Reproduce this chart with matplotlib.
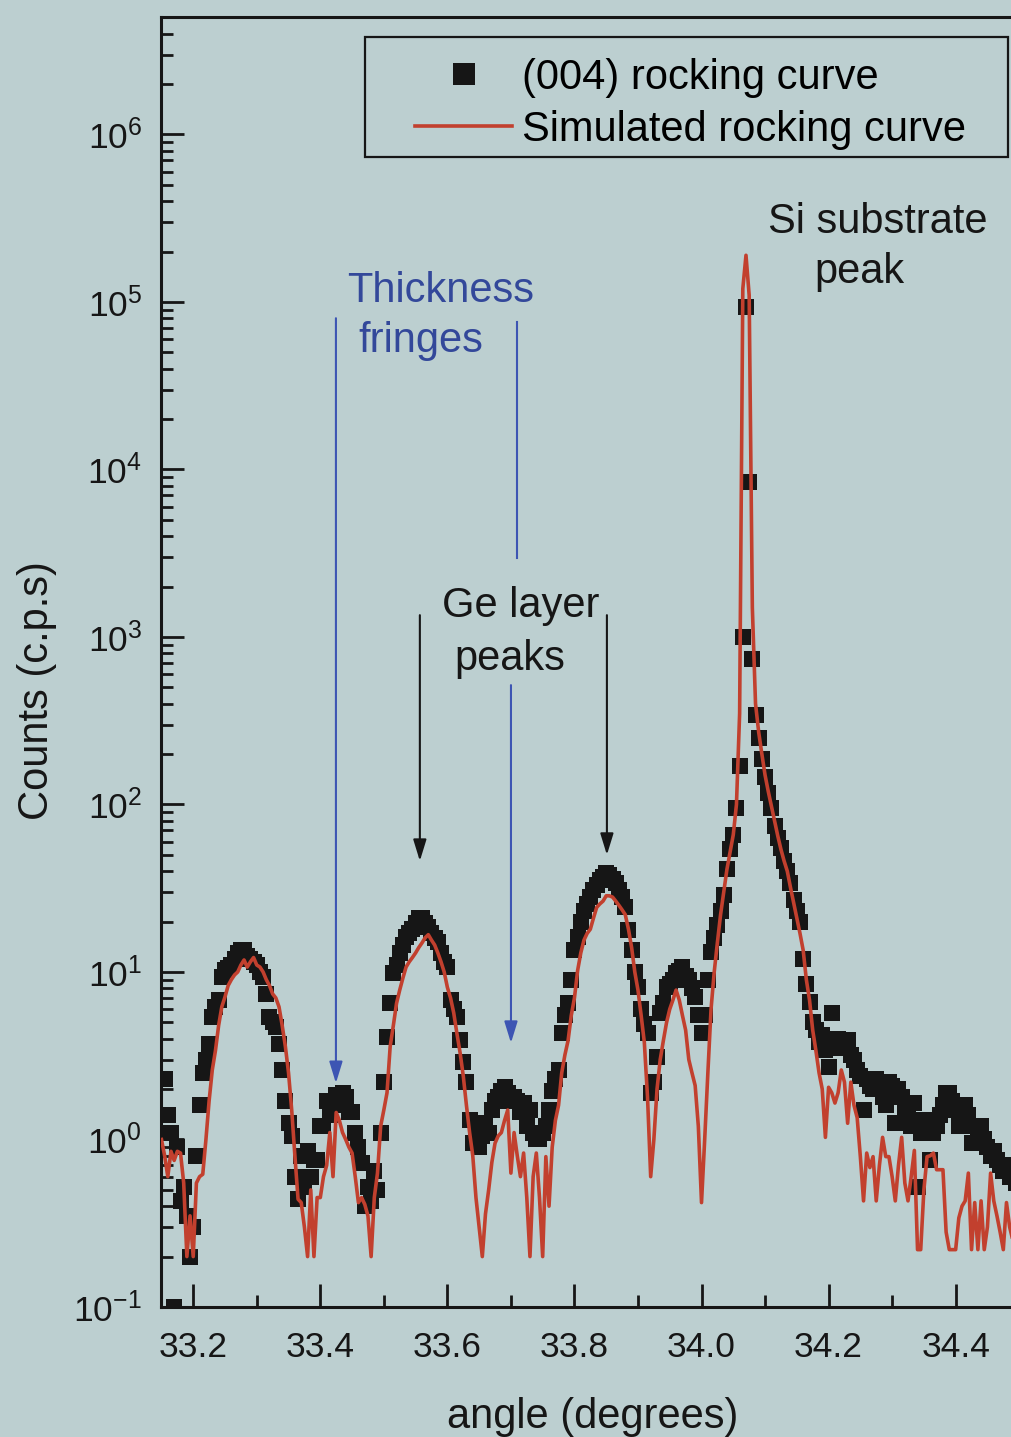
import matplotlib
matplotlib.use("Agg")
import matplotlib.pyplot as plt
import numpy as np
from matplotlib.patches import Rectangle
from matplotlib.ticker import (FormatStrFormatter, LogLocator, MultipleLocator,
                               NullFormatter)

plt.rcParams['font.family'] = ['Liberation Sans', 'DejaVu Sans']
plt.rcParams['axes.unicode_minus'] = False

# (004) rocking curve, counts per second, one point every 0.005 deg from 33.155
rocking_start = 33.155
rocking_counts = [
    2.3, 1.4, 1.1, 0.1, 0.9, 0.43, 0.52, 0.35, 0.2, 0.3,          # 33.155
    0.8, 1.6, 2.5, 3.0, 3.7, 5.4, 6.2, 6.8, 9.3, 10.3,            # 33.205
    10.5, 11, 12, 13, 13.5, 13.5, 12.5, 12, 11.5, 11,             # 33.255
    10, 9.3, 7.4, 5.4, 5.0, 4.7, 3.7, 2.6, 1.7, 1.25,             # 33.305
    1.05, 0.6, 0.44, 0.8, 0.52, 0.85, 0.6, 0.75, 0.75, 1.2,       # 33.355
    1.2, 1.7, 1.4, 1.6, 1.85, 1.7, 1.9, 1.8, 1.45, 1.45,          # 33.405
    1.1, 0.9, 0.72, 0.4, 0.52, 0.43, 0.65, 0.5, 1.1, 2.2,         # 33.455
    4.1, 6.5, 9.9, 11, 12.9, 14.5, 16.2, 17, 18, 19.6,            # 33.505
    21, 21, 19.5, 18.5, 17, 16, 15, 13, 11.5, 10.7,               # 33.555
    6.8, 6.0, 5.4, 3.9, 2.9, 2.2, 1.3, 0.95, 1.1, 0.9,            # 33.605
    1.05, 1.25, 1.1, 1.5, 1.7, 1.8, 1.96, 2.05, 1.9, 1.7,         # 33.655
    1.8, 1.7, 1.45, 1.65, 1.2, 1.5, 1.1, 1.0, 1.0, 1.1,           # 33.705
    1.2, 1.5, 1.95, 2.3, 2.6, 4.3, 5.5, 6.5, 9.0, 13.5,           # 33.755
    16.2, 20, 23, 25.6, 28, 31, 33, 35.5, 37, 38.8,               # 33.805
    38, 36, 34, 31, 28, 24.5, 17.9, 13.5, 10, 8.1,                # 33.855
    6.0, 4.9, 4.3, 1.9, 2.2, 3.1, 5.7, 6.5, 8.1, 8.5,             # 33.905
    9.0, 9.9, 10.2, 10.7, 9.5, 9.0, 8.0, 7.1, 5.5, 4.3,           # 33.955
    5.5, 9.0, 13.1, 16, 19, 23, 29, 41, 54, 66,                   # 34.005
    95, 170, 1000, 93000, 8400, 740, 340, 250, 187, 145,          # 34.055
    117, 95, 74, 63, 55, 46, 40, 34, 27, 23,                      # 34.105
    20, 12, 8.5, 6.6, 5.0, 4.5, 3.8, 4.2, 3.4, 2.7,               # 34.155
    5.7, 3.6, 4.0, 3.5, 3.6, 3.9, 3.2, 3.0, 2.6, 2.4,             # 34.205
    1.5, 2.3, 2.1, 2.0, 2.3, 2.2, 1.8, 1.6, 2.2, 2.1,             # 34.255
    1.25, 2.0, 1.8, 1.5, 1.4, 1.2, 1.65, 0.52, 1.1, 1.3,          # 34.305
    1.1, 0.75, 1.1, 1.2, 1.4, 1.6, 1.9, 1.9, 1.7, 1.5,            # 34.355
    1.2, 1.5, 1.6, 1.4, 0.95, 1.2, 1.1, 1.2, 1.0, 0.9,            # 34.405
    0.8, 0.85, 0.75, 0.7, 0.65, 0.7, 0.6, 0.6, 0.55, 0.55,        # 34.455
]

# simulated rocking curve, one point every 0.005 deg from 33.150
simulated_start = 33.150
simulated_counts = [
    1.0, 0.8, 0.6, 0.85, 0.75, 0.85, 0.83, 0.55, 0.2, 0.35,       # 33.150
    0.2, 0.55, 0.6, 0.62, 1.0, 1.7, 2.6, 3.4, 4.8, 6.2,           # 33.200
    7.1, 8.3, 9.0, 9.6, 10.0, 11, 11.8, 10.7, 11.5, 12.2,         # 33.250
    11, 10.7, 10, 9, 8.3, 7.4, 7.0, 6.2, 4.8, 3.6,                # 33.300
    2.5, 1.5, 0.8, 0.44, 0.42, 0.3, 0.2, 0.5, 0.2, 0.45,          # 33.350
    0.45, 0.6, 0.7, 1.1, 0.6, 1.45, 1.3, 1.1, 1.0, 0.9,           # 33.400
    0.83, 0.6, 0.42, 0.45, 0.41, 0.35, 0.2, 0.45, 0.63, 1.2,      # 33.450
    1.5, 1.9, 3.6, 4.8, 6.5, 7.8, 9.2, 10.7, 11.5, 12.2,          # 33.500
    13, 14, 14.9, 16, 16.7, 15.5, 14.5, 13, 11.5, 10,             # 33.550
    8.1, 7, 5.7, 4.3, 3.3, 2.4, 1.6, 1.1, 0.8, 0.45,              # 33.600
    0.3, 0.2, 0.36, 0.5, 0.73, 0.95, 1.05, 1.1, 1.3, 1.5,         # 33.650
    0.63, 1.1, 0.8, 0.6, 0.83, 0.45, 0.2, 0.6, 0.83, 0.45,        # 33.700
    0.2, 0.79, 0.4, 0.9, 1.3, 1.6, 2.5, 3.2, 3.9, 5.5,            # 33.750
    7.0, 10.2, 13, 15.5, 17, 18, 21, 24.3, 25.5, 26.5,            # 33.800
    28.5, 28.5, 28, 26.5, 25, 23.5, 22, 18, 14, 10,               # 33.850
    7.8, 5.5, 3.8, 1.8, 0.6, 1.0, 2.0, 3.0, 3.9, 5.0,             # 33.900
    6.0, 6.8, 7.8, 6.8, 5.5, 4.5, 3.0, 2.5, 2.1, 1.2,             # 33.950
    0.42, 1.0, 2.5, 6, 10, 15, 22, 30, 41, 52,                    # 34.000
    66, 100, 350, 120000, 190000, 110000, 1500, 400, 270, 200,    # 34.050
    150, 120, 98, 80, 65, 54, 46, 40, 32, 26,                     # 34.100
    21, 17, 13.5, 9, 6.8, 4.5, 3.4, 2.5, 2.0, 1.03,               # 34.150
    2.05, 1.9, 1.65, 1.9, 2.6, 2.2, 1.25, 2.2, 1.6, 1.35,         # 34.200
    0.79, 0.43, 0.83, 0.68, 0.79, 0.43, 0.7, 1.03, 0.79, 0.79,    # 34.250
    0.6, 0.43, 0.7, 1.03, 0.55, 0.43, 0.6, 0.86, 0.22, 0.22,      # 34.300
    0.5, 0.79, 0.8, 0.83, 0.66, 0.66, 0.66, 0.28, 0.22, 0.22,     # 34.350
    0.22, 0.34, 0.4, 0.43, 0.63, 0.22, 0.42, 0.22, 0.43, 0.22,    # 34.400
    0.3, 0.63, 0.43, 0.35, 0.28, 0.22, 0.42, 0.3, 0.25, 0.3,      # 34.450
    0.3,                                                          # 34.500
]
step = 0.005

rocking_angle = rocking_start + step * np.arange(len(rocking_counts))
simulated_angle = simulated_start + step * np.arange(len(simulated_counts))

bg = '#bccfd0'
ink = '#161616'
red = '#c2402e'
blue_text = '#33489a'
blue_line = '#3d55b3'

fig = plt.figure(figsize=(10.11, 14.37), dpi=100)
fig.patch.set_facecolor(bg)
ax = fig.add_axes([0.1597, 0.09047, 0.8484, 0.89742])
ax.set_facecolor(bg)

ax.plot(rocking_angle, rocking_counts, 's', color=ink, markersize=11.8,
        markeredgewidth=0, label='(004) rocking curve', zorder=2)
ax.plot(simulated_angle, simulated_counts, '-', color=red, lw=2.6,
        label='Simulated rocking curve', zorder=3)

ax.set_yscale('log')
ax.set_xlim(33.15, 34.5)
ax.set_ylim(0.1, 5e6)

ax.xaxis.set_major_locator(MultipleLocator(0.2))
ax.xaxis.set_minor_locator(MultipleLocator(0.1))
ax.xaxis.set_major_formatter(FormatStrFormatter('%.1f'))
ax.yaxis.set_major_locator(LogLocator(base=10, numticks=20))
ax.yaxis.set_minor_locator(LogLocator(base=10, subs=np.arange(2, 10),
                                      numticks=20))
ax.yaxis.set_minor_formatter(NullFormatter())

ax.tick_params(which='both', direction='in', top=False, right=False,
               colors=ink, labelsize=25.5, width=2)
ax.tick_params(which='major', length=16.5)
ax.tick_params(which='minor', length=8.5)
ax.tick_params(axis='y', pad=14)
ax.tick_params(axis='x', pad=17)
for side in ['left', 'bottom', 'top']:
    ax.spines[side].set_linewidth(2.2)
    ax.spines[side].set_color(ink)
ax.spines['right'].set_visible(False)

ax.set_xlabel('angle (degrees)', fontsize=30, color=ink)
ax.xaxis.set_label_coords(0.503, -0.0698)
ax.set_ylabel('Counts (c.p.s)', fontsize=30, color=ink)
ax.yaxis.set_label_coords(-0.122, 0.478)

# legend without its own frame, boxed by a plain rectangle
ax.legend(loc='upper left', bbox_to_anchor=(0.2956, 0.9686), frameon=False,
          fontsize=30, handlelength=2.33, handletextpad=0.24,
          labelspacing=0.29, borderpad=0, borderaxespad=0, markerscale=1.3)
ax.add_patch(Rectangle((0.2373, 0.8918), 0.7496, 0.093,
                       transform=ax.transAxes, fill=False, lw=1.6,
                       edgecolor=ink, zorder=5, clip_on=False))

# annotation labels
ax.text(33.590, 1.0e5, 'Thickness', color=blue_text, fontsize=30,
        ha='center', va='baseline')
ax.text(33.558, 5.0e4, 'fringes', color=blue_text, fontsize=30,
        ha='center', va='baseline')
ax.text(33.716, 1316, 'Ge layer', color=ink, fontsize=30,
        ha='center', va='baseline')
ax.text(33.699, 635, 'peaks', color=ink, fontsize=30,
        ha='center', va='baseline')
ax.text(34.278, 2.58e5, 'Si substrate', color=ink, fontsize=30,
        ha='center', va='baseline')
ax.text(34.249, 1.30e5, 'peak', color=ink, fontsize=30,
        ha='center', va='baseline')


def arrow(x, top, tip, color):
    ax.annotate('', xy=(x, tip), xytext=(x, top),
                arrowprops=dict(arrowstyle='-|>,head_length=0.65,head_width=0.2',
                                color=color, lw=1.5, shrinkA=0, shrinkB=0,
                                mutation_scale=20))


arrow(33.4246, 8.0e4, 2.17, blue_line)
ax.plot([33.7095, 33.7095], [7.6e4, 2960], color=blue_line, lw=1.5)
arrow(33.7001, 516, 3.77, blue_line)
arrow(33.5567, 1350, 46, ink)
arrow(33.8511, 1350, 50, ink)

fig.savefig('out.png', dpi=100, facecolor=fig.get_facecolor())
